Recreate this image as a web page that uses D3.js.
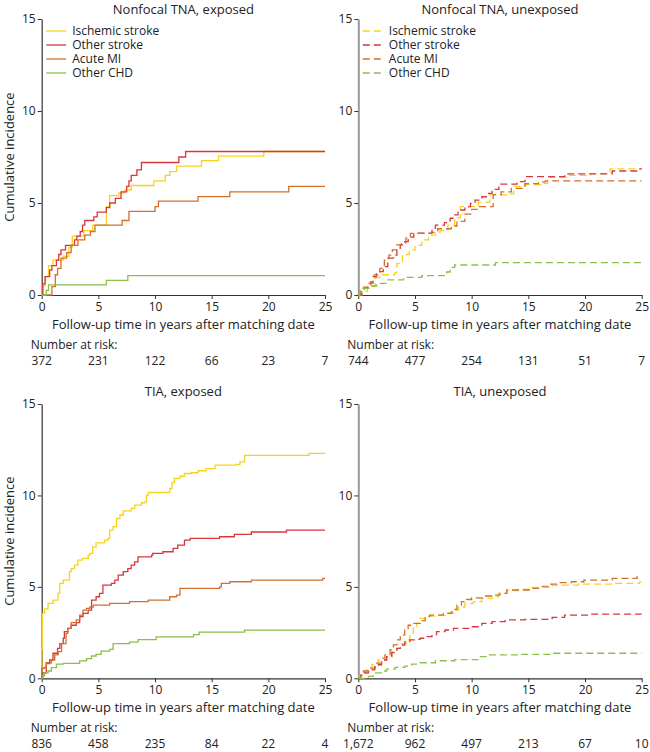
<!DOCTYPE html>
<html>
<head>
<meta charset="utf-8">
<script src="https://cdn.jsdelivr.net/npm/d3@7"></script>
<style>
  body { margin: 0; background: #fff; }
  svg { display: block; font-family: "Open Sans", sans-serif; }
</style>
</head>
<body>
<svg id="chart" width="650" height="752"></svg>
<script>
// ---------- DATA ----------
const categories = ["Ischemic stroke", "Other stroke", "Acute MI", "Other CHD"];
const panelTitles = ["Nonfocal TNA, exposed", "Nonfocal TNA, unexposed", "TIA, exposed", "TIA, unexposed"];
const timeTicks = [0, 5, 10, 15, 20, 25];
const incidenceTicks = [0, 5, 10, 15];

const riskTnaExposed   = ["372", "231", "122", "66", "23", "7"];
const riskTnaUnexposed = ["744", "477", "254", "131", "51", "7"];
const riskTiaExposed   = ["836", "458", "235", "84", "22", "4"];
const riskTiaUnexposed = ["1,672", "962", "497", "213", "67", "10"];

// Nonfocal TNA, exposed
const tnaExpIschemic = [[0,0],[0.1,0.5],[0.3,1.0],[0.6,1.6],[1.0,1.9],[1.9,2.1],[2.4,2.6],[2.7,3.2],[3.7,3.5],[4.5,3.8],[5.7,4.8],[6.0,5.4],[6.8,5.55],[7.3,5.7],[7.9,5.95],[9.9,6.2],[10.9,6.5],[11.3,6.7],[11.9,7.0],[14.1,7.3],[15.6,7.55],[19.6,7.8]];
const tnaExpOther = [[0,0],[0.1,0.6],[0.3,1.0],[0.7,1.35],[0.9,1.6],[1.3,1.9],[1.5,2.2],[1.7,2.45],[2.1,2.7],[2.9,3.0],[3.1,3.2],[3.4,3.45],[3.6,3.8],[3.8,4.05],[4.6,4.25],[4.9,4.5],[5.7,4.75],[6.0,5.0],[6.5,5.25],[7.0,5.6],[7.5,5.9],[7.7,6.2],[7.9,6.5],[8.4,6.8],[8.8,7.2],[12.1,7.5],[12.7,7.8]];
const tnaExpMI = [[0,0],[0.9,0.45],[1.2,1.1],[1.4,1.45],[1.7,2.0],[2.2,2.3],[2.6,2.7],[3.2,3.0],[3.8,3.25],[4.3,3.45],[4.7,3.8],[7.1,4.05],[7.7,4.55],[10.0,4.8],[10.3,5.1],[13.8,5.35],[16.6,5.6],[21.8,5.9]];
const tnaExpCHD = [[0,0],[0.4,0.25],[0.6,0.55],[5.7,0.8],[7.6,1.05]];

// Nonfocal TNA, unexposed
const tnaUnIschemic = [[0,0],[0.3,0.2],[0.8,0.5],[1.5,0.95],[1.9,1.1],[3.2,1.2],[3.4,1.7],[3.9,2.2],[4.5,2.45],[5.0,2.7],[5.6,3.0],[6.2,3.25],[6.8,3.35],[7.2,3.5],[7.9,3.8],[8.5,4.2],[9.0,4.8],[10.6,5.05],[11.6,5.44],[13.1,5.5],[13.7,5.9],[14.7,6.0],[16.1,6.07],[16.7,6.4],[18.4,6.5],[20.5,6.6],[22.2,6.85]];
const tnaUnOther = [[0,0],[0.3,0.36],[0.9,0.64],[1.3,1.0],[1.6,1.27],[2.2,1.54],[2.6,2.0],[3.1,2.17],[3.4,2.45],[3.7,2.72],[4.1,2.9],[4.4,3.14],[4.9,3.36],[6.5,3.62],[6.8,3.8],[7.6,3.93],[8.1,4.17],[8.5,4.35],[8.8,4.62],[9.4,4.8],[9.9,4.98],[10.3,5.16],[10.9,5.34],[11.5,5.52],[11.8,5.74],[12.4,6.03],[14.0,6.16],[14.7,6.43],[18.2,6.58],[22.4,6.74],[24.7,6.85]];
const tnaUnMI = [[0,0],[0.2,0.3],[0.5,0.42],[1.1,0.72],[1.4,1.09],[1.9,1.45],[2.3,1.9],[2.7,2.17],[3.0,2.45],[3.4,2.72],[3.8,2.84],[4.2,3.1],[4.6,3.35],[6.5,3.4],[7.0,3.6],[8.2,3.75],[8.7,4.0],[9.4,4.4],[10.0,4.65],[10.6,4.8],[11.9,5.45],[12.6,5.6],[13.5,5.8],[14.7,6.05],[15.9,6.15],[16.5,6.2]];
const tnaUnCHD = [[0,0],[0.1,0.15],[0.4,0.36],[0.9,0.49],[1.6,0.63],[2.6,0.82],[4.0,0.96],[5.6,1.05],[7.8,1.25],[8.1,1.5],[8.5,1.63],[12.1,1.76]];

// TIA, exposed
const tiaExpIschemic = [[0,0],[0.02,1.6],[0.06,3.55],[0.26,3.8],[0.56,4.1],[1.0,4.28],[1.44,4.64],[1.6,5.19],[1.9,5.37],[2.45,5.83],[2.6,6.0],[2.9,6.19],[3.2,6.46],[3.6,6.56],[4.1,6.74],[4.25,6.83],[4.5,7.19],[4.8,7.41],[5.55,7.56],[5.85,7.65],[6.0,8.1],[6.3,8.29],[6.6,8.74],[6.9,8.93],[7.2,9.16],[7.9,9.29],[8.2,9.47],[8.8,9.6],[9.1,9.65],[9.25,10.0],[9.4,10.16],[11.3,10.38],[11.5,10.7],[11.7,10.93],[12.2,11.05],[12.6,11.2],[13.2,11.24],[13.8,11.35],[14.5,11.47],[15.3,11.66],[17.2,11.7],[17.5,11.83],[17.9,12.19],[23.6,12.3]];
const tiaExpOther = [[0,0],[0.1,0.3],[0.4,0.8],[0.7,1.0],[1.0,1.37],[1.4,1.64],[1.6,1.9],[1.9,2.2],[2.0,2.55],[2.3,2.73],[2.6,2.9],[3.05,3.04],[3.35,3.37],[3.65,3.55],[4.1,3.73],[4.4,4.28],[4.8,4.46],[5.1,4.64],[5.4,5.1],[6.15,5.19],[6.45,5.37],[6.75,5.64],[7.2,5.83],[7.6,6.0],[7.9,6.19],[8.2,6.37],[8.5,6.64],[9.7,6.74],[9.8,6.83],[10.7,6.92],[11.6,7.1],[12.0,7.28],[12.6,7.56],[13.1,7.65],[15.7,7.74],[17.0,7.87],[18.5,8.0],[21.6,8.1]];
const tiaExpMI = [[0,0],[0,0.55],[0.25,0.6],[0.4,0.85],[0.85,1.0],[1.15,1.28],[1.45,1.46],[1.75,1.9],[2.15,2.46],[2.3,2.73],[2.6,3.04],[3.05,3.19],[3.35,3.46],[3.65,3.73],[3.95,3.82],[4.25,3.9],[4.55,4.0],[6.0,4.1],[7.75,4.19],[9.4,4.28],[11.3,4.46],[11.9,4.55],[12.2,4.92],[15.7,5.0],[15.85,5.19],[16.6,5.28],[18.5,5.37],[24.8,5.46]];
const tiaExpCHD = [[0,0],[0.1,0.15],[0.26,0.3],[0.56,0.4],[0.85,0.58],[1.3,0.77],[1.9,0.82],[3.35,0.95],[3.95,1.08],[4.4,1.22],[4.8,1.31],[5.25,1.49],[6.0,1.58],[6.3,1.9],[7.75,1.98],[8.5,2.12],[10.1,2.26],[13.4,2.39],[13.9,2.52],[17.9,2.63]];

// TIA, unexposed
const tiaUnIschemic = [[0,0],[0.1,0.15],[0.3,0.3],[0.75,0.46],[1.2,0.74],[1.75,1.0],[2.5,1.18],[2.95,1.46],[3.4,1.64],[3.85,1.9],[4.25,2.1],[4.55,2.46],[4.85,2.82],[5.15,3.0],[5.45,3.28],[5.9,3.4],[6.75,3.46],[7.65,3.58],[8.4,3.73],[8.85,3.9],[9.4,4.1],[10.15,4.19],[10.9,4.37],[11.8,4.46],[12.35,4.64],[13.1,4.79],[14.1,4.86],[15.0,4.97],[15.9,5.04],[17.1,5.1],[19.4,5.15],[22.7,5.19],[24.8,5.26]];
const tiaUnOther = [[0,0],[0.2,0.15],[0.45,0.3],[0.9,0.46],[1.45,0.74],[2.05,1.0],[2.5,1.18],[2.95,1.4],[3.4,1.64],[3.7,1.82],[4.1,2.0],[4.55,2.1],[5.0,2.13],[5.45,2.19],[6.0,2.28],[6.5,2.37],[6.9,2.55],[7.65,2.64],[8.4,2.73],[10.0,2.82],[10.9,3.0],[11.8,3.1],[12.95,3.19],[14.7,3.22],[17.1,3.33],[18.2,3.46],[20.6,3.51]];
const tiaUnMI = [[0,0],[0.2,0.18],[0.45,0.4],[0.9,0.56],[1.5,0.83],[2.05,1.1],[2.35,1.28],[2.8,1.56],[3.1,1.83],[3.4,2.1],[3.7,2.37],[4.1,2.64],[4.4,2.9],[4.85,3.0],[5.45,3.15],[5.9,3.37],[6.3,3.46],[7.5,3.55],[8.25,3.77],[8.7,4.0],[9.1,4.19],[9.55,4.31],[10.0,4.4],[11.0,4.5],[11.8,4.55],[12.5,4.64],[13.1,4.83],[15.3,4.92],[15.9,5.0],[16.8,5.15],[17.7,5.23],[18.8,5.28],[19.9,5.37],[22.4,5.46],[24.6,5.56]];
const tiaUnCHD = [[0,0],[0.9,0.1],[1.3,0.3],[2.05,0.4],[2.5,0.5],[3.25,0.6],[4.1,0.67],[4.7,0.78],[5.45,0.85],[6.8,0.96],[8.5,1.02],[10.7,1.18],[11.5,1.28],[14.4,1.31],[17.1,1.37]];

// ---------- STYLE / LAYOUT ----------
const colors = ["#F6D21F", "#D9363E", "#D2702C", "#8CBF4C"];
const panels = [
  { title: panelTitles[0], risk: riskTnaExposed,   series: [tnaExpIschemic, tnaExpOther, tnaExpMI, tnaExpCHD], x0: 41.7, x1: 325,   y0: 295,   y1: 19,  dashed: false, left: true,  legend: true,  titleY: 14 },
  { title: panelTitles[1], risk: riskTnaUnexposed, series: [tnaUnIschemic, tnaUnOther, tnaUnMI, tnaUnCHD],     x0: 358.3, x1: 641.7, y0: 295,   y1: 19,  dashed: true,  left: false, legend: true,  titleY: 14 },
  { title: panelTitles[2], risk: riskTiaExposed,   series: [tiaExpIschemic, tiaExpOther, tiaExpMI, tiaExpCHD], x0: 41.7, x1: 325,   y0: 678.3, y1: 404, dashed: false, left: true,  legend: false, titleY: 396 },
  { title: panelTitles[3], risk: riskTiaUnexposed, series: [tiaUnIschemic, tiaUnOther, tiaUnMI, tiaUnCHD],     x0: 358.3, x1: 641.7, y0: 678.3, y1: 404, dashed: true,  left: false, legend: false, titleY: 396 }
];

const svg = d3.select("#chart");

panels.forEach(p => {
  const x = d3.scaleLinear().domain([0, 25]).range([p.x0, p.x1]);
  const y = d3.scaleLinear().domain([0, 15]).range([p.y0, p.y1]);
  const g = svg.append("g");

  // title
  g.append("text").attr("x", (p.x0 + p.x1) / 2).attr("y", p.titleY)
    .attr("text-anchor", "middle").attr("font-size", 13).attr("fill", "#222").text(p.title);

  // y axis
  const ya = g.append("g").attr("transform", `translate(${p.x0},0)`)
    .call(d3.axisLeft(y).tickValues(incidenceTicks).tickSize(4).tickPadding(2).tickSizeOuter(0));
  ya.select(".domain").attr("stroke", p.left ? "#333" : "#999").attr("stroke-width", p.left ? 1.2 : 2);
  ya.selectAll(".tick line").attr("stroke", "#333");
  ya.selectAll(".tick text").attr("font-size", 12).attr("fill", "#222").attr("font-family", "Open Sans, sans-serif");

  // x axis
  const xa = g.append("g").attr("transform", `translate(0,${p.y0})`)
    .call(d3.axisBottom(x).tickValues(timeTicks).tickSize(4).tickPadding(3).tickSizeOuter(0));
  xa.select(".domain").attr("stroke", "#333").attr("stroke-width", 1.2);
  xa.selectAll(".tick line").attr("stroke", "#333");
  xa.selectAll(".tick text").attr("font-size", 12).attr("fill", "#222").attr("font-family", "Open Sans, sans-serif");

  // x axis title
  g.append("text").attr("x", (p.x0 + p.x1) / 2).attr("y", p.y0 + 34)
    .attr("text-anchor", "middle").attr("font-size", 13).attr("fill", "#222")
    .text("Follow-up time in years after matching date");

  // number at risk
  g.append("text").attr("x", p.x0 - 11).attr("y", p.y0 + 54)
    .attr("font-size", 12).attr("fill", "#222").text("Number at risk:");
  g.selectAll(".risk").data(p.risk).join("text")
    .attr("x", (d, i) => x(timeTicks[i])).attr("y", p.y0 + 70)
    .attr("text-anchor", "middle").attr("font-size", 12).attr("fill", "#222").text(d => d);

  // y label
  if (p.left) {
    g.append("text").attr("transform", `translate(14,${(p.y0 + p.y1) / 2}) rotate(-90)`)
      .attr("text-anchor", "middle").attr("font-size", 13).attr("fill", "#222").text("Cumulative incidence");
  }

  // curves
  const line = d3.line().x(d => x(d[0])).y(d => y(d[1])).curve(d3.curveStepAfter);
  p.series.forEach((s, i) => {
    const pts = s.concat([[25, s[s.length - 1][1]]]);
    g.append("path").datum(pts).attr("d", line)
      .attr("fill", "none").attr("stroke", colors[i]).attr("stroke-width", 1.3)
      .attr("stroke-dasharray", p.dashed ? "7,4" : null);
  });

  // legend
  if (p.legend) {
    const lx = p.x0 + 4.5;
    categories.forEach((c, i) => {
      const ly = 31 + i * 14;
      g.append("line").attr("x1", lx).attr("x2", lx + 20).attr("y1", ly).attr("y2", ly)
        .attr("stroke", colors[i]).attr("stroke-width", 1.3)
        .attr("stroke-dasharray", p.dashed ? "7,4" : null);
      g.append("text").attr("x", lx + 26).attr("y", ly + 4)
        .attr("font-size", 12).attr("fill", "#222").text(c);
    });
  }
});
</script>
</body>
</html>
